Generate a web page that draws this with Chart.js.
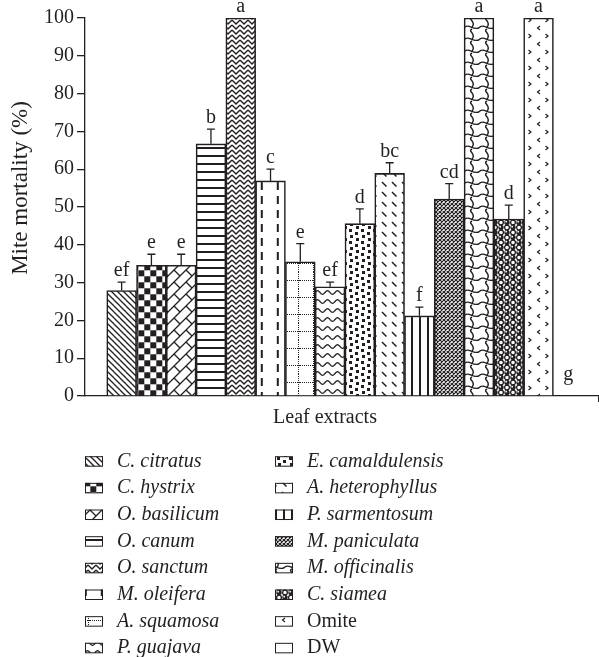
<!DOCTYPE html>
<html>
<head>
<meta charset="utf-8">
<script src="https://cdn.jsdelivr.net/npm/chart.js@4.4.1/dist/chart.umd.min.js"></script>
<style>
  html, body { margin: 0; padding: 0; background: #fff; }
  canvas { display: block; }
</style>
</head>
<body>
<canvas id="chart" width="599" height="657"></canvas>
<script>
// Leaf extracts tested and mean mite mortality (%) with standard error
const species = ['C. citratus', 'C. hystrix', 'O. basilicum', 'O. canum', 'O. sanctum', 'M. oleifera',
  'A. squamosa', 'P. guajava', 'E. camaldulensis', 'A. heterophyllus', 'P. sarmentosum',
  'M. paniculata', 'M. officinalis', 'C. siamea', 'Omite', 'DW'];
const mortality = [27.9, 34.6, 34.6, 66.7, 100, 56.9, 35.5, 28.9, 45.6, 58.9, 21.2, 52.1, 100, 46.8, 100, 0];
const stdError  = [2.2, 2.9, 2.9, 3.9, 0, 3.1, 4.8, 1.2, 3.9, 2.8, 2.3, 4.1, 0, 3.7, 0, 0];
const groups    = ['ef', 'e', 'e', 'b', 'a', 'c', 'e', 'ef', 'd', 'bc', 'f', 'cd', 'a', 'd', 'a', 'g'];
const yTicks    = [0, 10, 20, 30, 40, 50, 60, 70, 80, 90, 100];
const fillKinds = ['diagDown', 'checker', 'diagBrick', 'horiz', 'weave', 'dashVert', 'dotGrid', 'wave',
  'confetti', 'diagDash', 'vert', 'crossDense', 'shingle', 'spheres', 'chevrons', 'plain'];

const INK = '#231f20';
const SERIF = '"Liberation Serif", "DejaVu Serif", serif';

// ---- hatch tiles -------------------------------------------------------
function tile(w, h, draw) {
  const c = document.createElement('canvas');
  c.width = w; c.height = h;
  const g = c.getContext('2d');
  g.fillStyle = '#fff';
  g.fillRect(0, 0, w, h);
  g.fillStyle = INK;
  g.strokeStyle = INK;
  g.lineWidth = 1.3;
  // repeat the motif on the neighbouring cells so strokes wrap seamlessly
  for (const dx of [-w, 0, w]) {
    for (const dy of [-h, 0, h]) {
      g.save();
      g.translate(dx, dy);
      draw(g);
      g.restore();
    }
  }
  return c;
}

const motifs = {
  diagDown: [6, 6, g => { g.beginPath(); g.moveTo(0, 0); g.lineTo(6, 6); g.stroke(); }],
  checker: [12, 12, g => { g.fillRect(0.3, 0.3, 6, 6); g.fillRect(6.3, 6.3, 6, 6); }],
  diagBrick: [12, 12, g => {
    g.beginPath(); g.moveTo(0, 12); g.lineTo(12, 0); g.moveTo(6, 6); g.lineTo(12, 12); g.stroke();
  }],
  horiz: [8, 8, g => { g.fillRect(0, 3, 8, 2); }],
  weave: [8, 5, g => {
    g.lineWidth = 1.4;
    g.beginPath(); g.moveTo(0, 0); g.lineTo(4, 4); g.lineTo(8, 0); g.stroke();
  }],
  dashVert: [16, 14, g => { g.fillRect(4.8, 0, 2, 8); }],
  dotGrid: [15, 17, g => {
    for (let x = 0; x < 15; x += 2) g.fillRect(x, 8, 1, 1);
    for (let y = 0; y < 17; y += 2) g.fillRect(13, y, 1, 1);
  }],
  wave: [10, 9, g => {
    g.beginPath();
    for (let x = 0; x <= 10; x += 0.5) {
      const y = 4.5 + 1.8 * Math.sin(2 * Math.PI * x / 10);
      if (x === 0) g.moveTo(x, y); else g.lineTo(x, y);
    }
    g.stroke();
  }],
  confetti: [12, 12, g => {
    g.fillRect(1, 1, 3, 3); g.fillRect(7, 4, 3, 3); g.fillRect(2, 7, 3, 3); g.fillRect(8, 10, 3, 3);
  }],
  diagDash: [10, 10, g => {
    g.lineWidth = 1.5;
    g.beginPath(); g.moveTo(2, 2); g.lineTo(6.5, 6.5); g.stroke();
  }],
  vert: [8, 8, g => { g.fillRect(3, 0, 2, 8); }],
  crossDense: [4, 4, g => {
    g.lineWidth = 1.2;
    g.beginPath(); g.moveTo(0, 0); g.lineTo(4, 4); g.moveTo(4, 0); g.lineTo(0, 4); g.stroke();
  }],
  shingle: [15, 12, g => {
    g.lineWidth = 1.4;
    g.beginPath();
    g.moveTo(0, 3); g.bezierCurveTo(4, -1, 9, 8, 15, 3);
    g.moveTo(7, 5); g.bezierCurveTo(2, 7, 12, 10, 7, 15);
    g.stroke();
  }],
  spheres: [12, 10, g => {
    g.beginPath(); g.arc(3, 2.5, 2.7, 0, Math.PI * 2); g.arc(9, 7.5, 2.7, 0, Math.PI * 2); g.fill();
    g.beginPath(); g.arc(9, 2.5, 2.4, 0, Math.PI * 2); g.stroke();
    g.beginPath(); g.arc(3, 7.5, 2.4, 0, Math.PI * 2); g.stroke();
    g.fillStyle = '#fff';
    g.beginPath(); g.arc(2.2, 1.7, 0.9, 0, Math.PI * 2); g.arc(8.2, 6.7, 0.9, 0, Math.PI * 2); g.fill();
  }],
  chevrons: [17, 16, g => {
    g.lineWidth = 1.2;
    g.beginPath();
    g.moveTo(1.5, 2); g.lineTo(4, 4); g.lineTo(1.5, 6);
    g.moveTo(13, 10); g.lineTo(10.5, 12); g.lineTo(13, 14);
    g.stroke();
  }],
  plain: [4, 4, () => {}]
};

const canvas = document.getElementById('chart');
const ctx2d = canvas.getContext('2d');
const fills = fillKinds.map(k => {
  const [w, h, draw] = motifs[k];
  return ctx2d.createPattern(tile(w, h, draw), 'repeat');
});

// ---- error bars, group letters, axis titles and legend ------------------
const annotate = {
  id: 'annotate',
  afterDatasetsDraw(chart) {
    const { ctx, scales: { x, y } } = chart;
    ctx.save();
    ctx.strokeStyle = INK;
    ctx.fillStyle = INK;
    ctx.lineWidth = 1.3;
    ctx.font = '20px ' + SERIF;
    ctx.textAlign = 'center';
    ctx.textBaseline = 'alphabetic';
    mortality.forEach((v, i) => {
      const px = x.getPixelForValue(i + 1);
      const upper = v + stdError[i];
      const top = y.getPixelForValue(upper);
      if (stdError[i] > 0) {
        ctx.beginPath();
        ctx.moveTo(px, y.getPixelForValue(v));
        ctx.lineTo(px, top);
        ctx.moveTo(px - 4, top);
        ctx.lineTo(px + 4, top);
        ctx.stroke();
      }
      // keep descenders clear of the axis when the bar is empty
      ctx.fillText(groups[i], px, top - (upper > 0 ? 6 : 16));
    });
    ctx.restore();
  },
  afterDraw(chart) {
    const { ctx, chartArea } = chart;
    ctx.save();
    ctx.fillStyle = INK;
    ctx.textBaseline = 'alphabetic';

    // y-axis title
    ctx.save();
    ctx.translate(27, 188);
    ctx.rotate(-Math.PI / 2);
    ctx.textAlign = 'center';
    ctx.font = '23px ' + SERIF;
    ctx.fillText('Mite mortality (%)', 0, 0);
    ctx.restore();

    // x-axis title
    ctx.textAlign = 'center';
    ctx.font = '20px ' + SERIF;
    ctx.fillText('Leaf extracts', 325, chartArea.bottom + 27);

    // legend: two columns of eight
    ctx.textAlign = 'left';
    const firstBaseline = 466.7, rowStep = 26.66;
    species.forEach((name, i) => {
      const col = Math.floor(i / 8), row = i % 8;
      const sx = col === 0 ? 85 : 275;
      const base = firstBaseline + row * rowStep;
      ctx.fillStyle = fills[i];
      ctx.fillRect(sx, base - 10.5, 18, 10);
      ctx.strokeStyle = INK;
      ctx.lineWidth = 1;
      ctx.strokeRect(sx + 0.5, base - 10, 17, 9.5);
      ctx.fillStyle = INK;
      const binomial = /^[A-Z]\. /.test(name);
      ctx.font = (binomial ? 'italic ' : '') + '20px ' + SERIF;
      ctx.fillText(name, sx + 32, base);
    });
    ctx.restore();
  }
};

new Chart(canvas, {
  type: 'bar',
  data: {
    labels: species,
    datasets: [{
      data: mortality.map((v, i) => ({ x: i + 1, y: v })),
      backgroundColor: fills,
      borderColor: INK,
      borderWidth: 1.6,
      barPercentage: 1,
      categoryPercentage: 1
    }]
  },
  options: {
    responsive: false,
    animation: false,
    devicePixelRatio: 1,
    layout: { padding: { left: 41, top: 18, right: 0, bottom: 255 } },
    plugins: { legend: { display: false }, tooltip: { enabled: false } },
    scales: {
      x: {
        type: 'linear',
        min: -0.23,
        max: 17.03,
        offset: false,
        afterBuildTicks: s => { s.ticks = [{ value: s.min }]; },
        ticks: { display: false },
        grid: { drawOnChartArea: false, drawTicks: true, tickLength: 6, color: INK, lineWidth: 1.3 },
        border: { display: true, color: INK, width: 1.3 }
      },
      y: {
        min: 0,
        max: 100,
        afterBuildTicks: s => { s.ticks = yTicks.map(v => ({ value: v })); },
        ticks: { font: { family: SERIF, size: 20 }, color: INK, padding: 3 },
        grid: { drawOnChartArea: false, drawTicks: true, tickLength: 8, color: INK, lineWidth: 1.3 },
        border: { display: true, color: INK, width: 1.3 }
      }
    }
  },
  plugins: [annotate]
});
</script>
</body>
</html>
